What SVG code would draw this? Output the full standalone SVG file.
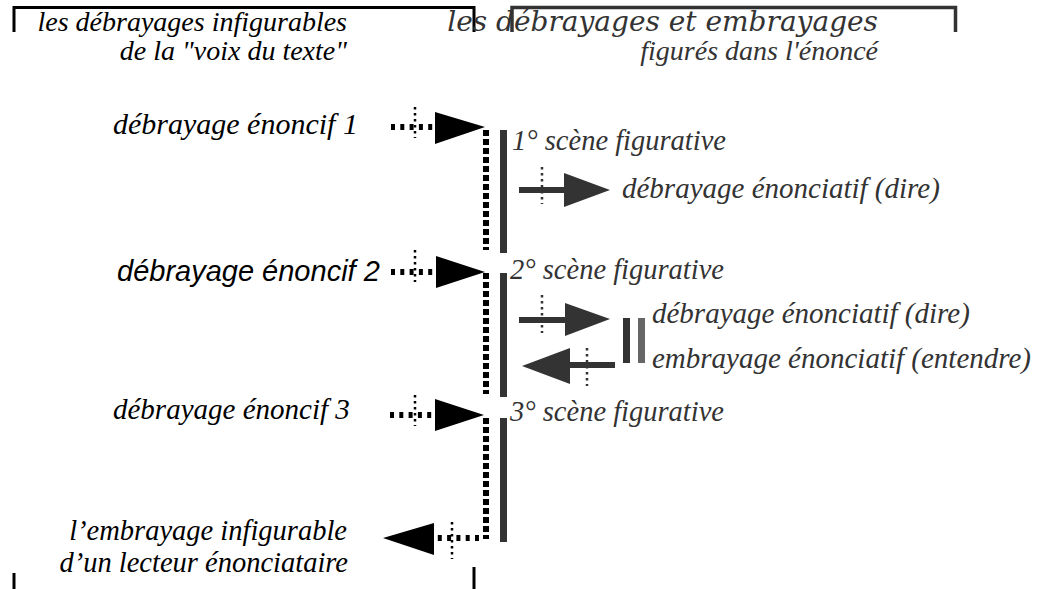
<svg xmlns="http://www.w3.org/2000/svg" width="1042" height="589" viewBox="0 0 1042 589">
<g id="brackets">
<path d="M14 32V7.5H474V32" fill="none" stroke="#000" stroke-width="3"/>
<path d="M512 32V7.5H955.5V32" fill="none" stroke="#333" stroke-width="3.5"/>
<line x1="14" y1="573" x2="14" y2="589" stroke="#000" stroke-width="3"/>
<line x1="474" y1="567" x2="474" y2="589" stroke="#000" stroke-width="3"/>
</g>
<g id="header-left">
<text x="347" y="31" text-anchor="end" font-family="serif" font-style="italic" font-size="28" fill="#000">les débrayages infigurables</text>
<text x="347" y="60" text-anchor="end" font-family="Liberation Serif" font-style="italic" font-size="28">de la "voix du texte"</text>
</g>
<g id="header-right">
<text x="878" y="31" text-anchor="end" font-family="DejaVu Serif" font-style="italic" font-size="28" fill="#333">les débrayages et embrayages</text>
<text x="878" y="60" text-anchor="end" font-family="Liberation Serif" font-style="italic" font-size="28" fill="#333">figurés dans l'énoncé</text>
</g>
<g id="label-d1"><text x="113" y="134" font-family="Liberation Serif" font-style="italic" font-size="30">débrayage énoncif 1</text></g>
<g id="label-d2"><text x="117" y="281" font-family="Liberation Sans" font-style="italic" font-size="29" fill="#000">débrayage énoncif 2</text></g>
<g id="label-d3"><text x="113" y="419" font-family="Times New Roman" font-style="italic" font-size="29">débrayage énoncif 3</text></g>
<g id="label-e">
<text x="347" y="540" text-anchor="end" font-family="Liberation Serif" font-style="italic" font-size="28.5">l’embrayage infigurable</text>
<text x="348" y="572" text-anchor="end" font-family="Liberation Serif" font-style="italic" font-size="28.5">d’un lecteur énonciataire</text>
</g>
<g id="scene1">
<rect x="500" y="130" width="7" height="123" fill="#333"/>
<text x="512" y="150" font-family="Liberation Serif" font-style="italic" font-size="28.5" fill="#333">1° scène figurative</text>
</g>
<g id="scene2">
<rect x="500" y="273" width="7" height="124" fill="#333"/>
<text x="510" y="279" font-family="Liberation Serif" font-style="italic" font-size="28.5" fill="#333">2° scène figurative</text>
</g>
<g id="scene3">
<rect x="500" y="418" width="7" height="124" fill="#333"/>
<text x="510" y="421" font-family="Liberation Serif" font-style="italic" font-size="28.5" fill="#333">3° scène figurative</text>
</g>
<g id="label-r1"><text x="622" y="198" font-family="Liberation Serif" font-style="italic" font-size="29" fill="#333">débrayage énonciatif (dire)</text></g>
<g id="label-r2"><text x="652" y="323" font-family="Liberation Serif" font-style="italic" font-size="29" fill="#333">débrayage énonciatif (dire)</text></g>
<g id="label-r3"><text x="652" y="368" font-family="Liberation Serif" font-style="italic" font-size="29" fill="#333">embrayage énonciatif (entendre)</text></g>
<g id="double-bar">
<rect x="623" y="318" width="7" height="45" fill="#333"/>
<rect x="638" y="318" width="7" height="45" fill="#666"/>
</g>
<g id="connectors" fill="none">
<line x1="391" y1="127" x2="435" y2="127" stroke="#000" stroke-width="6" stroke-dasharray="4 5.3"/>
<line x1="415" y1="107" x2="415" y2="138" stroke="#000" stroke-width="2.5" stroke-dasharray="2.5 3.5"/>
<polygon points="435,112 435,144 485,127" fill="#000"/>
<line x1="486" y1="130" x2="486" y2="250" stroke="#000" stroke-width="6" stroke-dasharray="6 3"/>
<line x1="391" y1="272" x2="436" y2="272" stroke="#000" stroke-width="6" stroke-dasharray="4 5.3"/>
<line x1="415" y1="250" x2="415" y2="282" stroke="#000" stroke-width="2.5" stroke-dasharray="2.5 3.5"/>
<polygon points="436,256 436,288 485,272" fill="#000"/>
<line x1="486" y1="273" x2="486" y2="394" stroke="#000" stroke-width="6" stroke-dasharray="6 3"/>
<line x1="390" y1="415" x2="435" y2="415" stroke="#000" stroke-width="6" stroke-dasharray="4 5.3"/>
<line x1="415" y1="395" x2="415" y2="426" stroke="#000" stroke-width="2.5" stroke-dasharray="2.5 3.5"/>
<polygon points="435,399 435,431 484,415" fill="#000"/>
<line x1="486" y1="418" x2="486" y2="539" stroke="#000" stroke-width="6" stroke-dasharray="6 3"/>
<line x1="479" y1="538" x2="434" y2="538" stroke="#000" stroke-width="6" stroke-dasharray="4 5.3"/>
<line x1="452" y1="522" x2="452" y2="559" stroke="#000" stroke-width="2.5" stroke-dasharray="2.5 3.5"/>
<polygon points="434,523 434,555 383,538" fill="#000"/>
<line x1="519" y1="190" x2="566" y2="190" stroke="#333" stroke-width="6"/>
<line x1="542" y1="167" x2="542" y2="204" stroke="#333" stroke-width="2.5" stroke-dasharray="2.5 3.5"/>
<polygon points="564,173 564,207 610,190" fill="#333"/>
<line x1="519" y1="320" x2="567" y2="320" stroke="#333" stroke-width="6"/>
<line x1="542" y1="295" x2="542" y2="333" stroke="#333" stroke-width="2.5" stroke-dasharray="2.5 3.5"/>
<polygon points="565,303 565,336 610,319" fill="#333"/>
<line x1="568" y1="365" x2="615" y2="365" stroke="#333" stroke-width="6"/>
<line x1="587" y1="348" x2="587" y2="386" stroke="#333" stroke-width="2.5" stroke-dasharray="2.5 3.5"/>
<polygon points="570,348 570,384 522,366" fill="#333"/>
</g>
</svg>
